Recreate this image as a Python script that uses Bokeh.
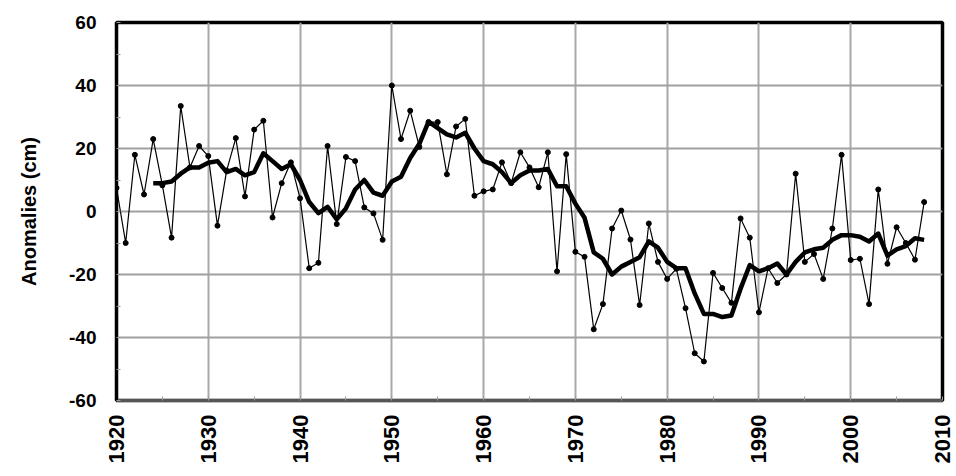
import math
from bokeh.plotting import figure
from bokeh.models import FixedTicker, Range1d
from bokeh.embed import file_html
from bokeh.resources import INLINE

# Annual sea-level anomalies (cm)
years = list(range(1920, 2009))
anomalies = [
    7.5, -10, 18, 5.4, 23, 8.3, -8.3, 33.5, 14, 20.8,
    17.6, -4.5, 13, 23.3, 4.8, 26, 28.8, -1.9, 9, 15.6,
    4.2, -18, -16.3, 20.8, -4, 17.3, 16, 1.3, -0.6, -9,
    40, 23, 32, 20.5, 28.4, 28.4, 11.8, 27, 29.4, 5,
    6.4, 7, 15.6, 9, 18.8, 14, 7.7, 18.8, -19, 18.2,
    -12.8, -14.4, -37.4, -29.4, -5.4, 0.3, -8.9, -29.7, -3.8, -16,
    -21.4, -18.2, -30.7, -45, -47.6, -19.5, -24.3, -29, -2.2, -8.3,
    -32, -18, -22.7, -20, 12, -16, -13.5, -21.4, -5.4, 18,
    -15.4, -15, -29.4, 7, -16.6, -5, -10, -15.3, 3,
]

# Five-year running mean (cm)
ma_years = list(range(1924, 2009))
ma_values = [
    9, 9, 9.5, 12, 14, 14,
    15.5, 16, 12.5, 13.5, 11.5, 12.5, 18.5, 16, 13.5, 15,
    10, 3, -0.5, 1.5, -2.5, 1, 7, 10, 6, 5,
    9.5, 11, 17, 21.5, 28.5, 26.5, 24.5, 23.5, 25, 20,
    16, 15, 12.5, 9, 11.5, 13, 13, 13.5, 8, 8,
    2.5, -2, -13, -15, -20, -17.5, -16, -14.5, -9.5, -11.5,
    -16, -18, -18, -26, -32.5, -32.5, -33.5, -33, -24.5, -17,
    -19, -18, -16.5, -20, -16, -13, -12, -11.5, -9, -7.5,
    -7.5, -8, -9.5, -7, -14, -12, -11, -8.5, -9,
]

x_ticks = list(range(1920, 2011, 10))
y_ticks = [-60, -40, -20, 0, 20, 40, 60]

FONT = "Liberation Sans"

p = figure(
    width=956, height=476,
    x_range=Range1d(1920, 2010), y_range=Range1d(-60, 60),
    output_backend="svg", toolbar_location=None,
    min_border_left=116, min_border_right=14,
    min_border_top=22, min_border_bottom=76,
)
p.background_fill_color = "white"
p.border_fill_color = "white"
p.outline_line_color = "black"
p.outline_line_width = 3.5

# grid
p.xgrid.ticker = FixedTicker(ticks=x_ticks)
p.ygrid.ticker = FixedTicker(ticks=y_ticks)
p.xgrid.grid_line_color = "#a8a8a8"
p.ygrid.grid_line_color = "#a0a0a0"
p.xgrid.grid_line_width = 2
p.ygrid.grid_line_width = 2

# x axis
xa = p.xaxis[0]
xa.ticker = FixedTicker(ticks=x_ticks, minor_ticks=list(range(1925, 2010, 10)))
xa.major_label_overrides = {t: str(t) for t in x_ticks}
xa.major_label_orientation = math.pi / 2
xa.major_label_text_font = FONT
xa.major_label_text_font_style = "bold"
xa.major_label_text_font_size = "22px"
xa.major_label_text_color = "black"
xa.major_label_standoff = 14
xa.axis_line_color = "#555555"
xa.axis_line_width = 3
xa.major_tick_in = 4
xa.major_tick_out = 0
xa.minor_tick_in = 4
xa.minor_tick_out = 0
xa.major_tick_line_color = "#999999"
xa.minor_tick_line_color = "#999999"

# y axis
ya = p.yaxis[0]
ya.ticker = FixedTicker(ticks=y_ticks, minor_ticks=[-50, -30, -10, 10, 30, 50])
ya.major_label_overrides = {t: str(t) for t in y_ticks}
ya.major_label_text_font = FONT
ya.major_label_text_font_style = "bold"
ya.major_label_text_font_size = "19px"
ya.major_label_text_color = "black"
ya.major_label_standoff = 20
ya.axis_label = "Anomalies (cm)"
ya.axis_label_text_font = FONT
ya.axis_label_text_font_style = "bold"
ya.axis_label_text_font_size = "20px"
ya.axis_label_text_color = "black"
ya.axis_label_standoff = 26
ya.axis_line_color = "black"
ya.axis_line_width = 3
ya.major_tick_in = 4
ya.major_tick_out = 0
ya.minor_tick_in = 4
ya.minor_tick_out = 0
ya.major_tick_line_color = "#999999"
ya.minor_tick_line_color = "#999999"

# annual series
p.line(years, anomalies, line_color="black", line_width=1.2)
p.scatter(years, anomalies, size=5, fill_color="black", line_color="black")

# running mean
p.line(ma_years, ma_values, line_color="black", line_width=4.5, line_join="round")

open("out.html", "w").write(file_html(p, INLINE))
